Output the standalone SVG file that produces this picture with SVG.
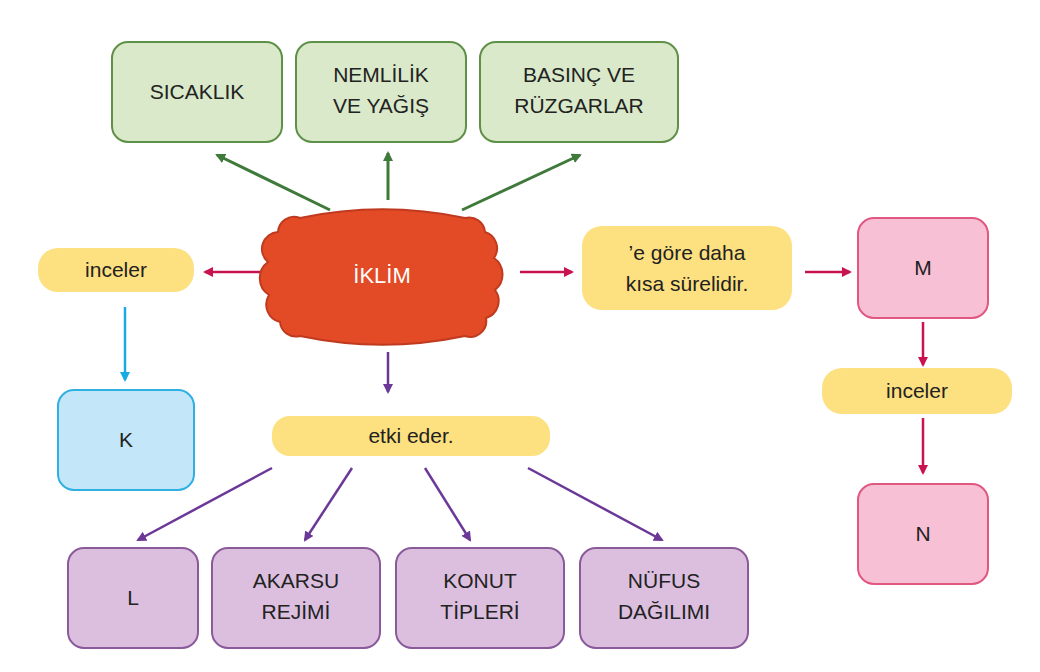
<svg xmlns="http://www.w3.org/2000/svg" width="1040" height="672" viewBox="0 0 1040 672">
<style>
text{font-family:"Liberation Sans",Arial,sans-serif;font-size:21px;fill:#222;text-anchor:middle}
.g{fill:#d9e9c9;stroke:#5e9048;stroke-width:2}
.p{fill:#dcbfdf;stroke:#8a5a9a;stroke-width:2}
.k{fill:#c3e7f8;stroke:#2fb0e2;stroke-width:2}
.m{fill:#f8c0d4;stroke:#e0577f;stroke-width:2}
.y{fill:#fde07f}
.ag{stroke:#3f7a3a;stroke-width:3;fill:none}
.ar{stroke:#c8134f;stroke-width:2.5;fill:none}
.ac{stroke:#19aae2;stroke-width:2.5;fill:none}
.ap{stroke:#6b3898;stroke-width:2.5;fill:none}
</style>
<defs>
<marker id="hg" markerWidth="10" markerHeight="10" refX="8" refY="5" orient="auto" markerUnits="userSpaceOnUse" viewBox="0 0 10 10"><path d="M0,0 L10,5 L0,10z" fill="#3f7a3a"/></marker>
<marker id="hr" markerWidth="10" markerHeight="10" refX="8" refY="5" orient="auto" markerUnits="userSpaceOnUse" viewBox="0 0 10 10"><path d="M0,0 L10,5 L0,10z" fill="#c8134f"/></marker>
<marker id="hc" markerWidth="10" markerHeight="10" refX="8" refY="5" orient="auto" markerUnits="userSpaceOnUse" viewBox="0 0 10 10"><path d="M0,0 L10,5 L0,10z" fill="#19aae2"/></marker>
<marker id="hp" markerWidth="10" markerHeight="10" refX="8" refY="5" orient="auto" markerUnits="userSpaceOnUse" viewBox="0 0 10 10"><path d="M0,0 L10,5 L0,10z" fill="#6b3898"/></marker>
</defs>
<rect width="1040" height="672" fill="#fff"/>
<g id="connectors">
<path class="ag" d="M330,210 L217,155" marker-end="url(#hg)"/>
<path class="ag" d="M388,200 L388,153" marker-end="url(#hg)"/>
<path class="ag" d="M462,210 L580,155" marker-end="url(#hg)"/>
<path class="ar" d="M262,272 L205,272" marker-end="url(#hr)"/>
<path class="ac" d="M125,307 L125,380" marker-end="url(#hc)"/>
<path class="ap" d="M388,352 L388,392" marker-end="url(#hp)"/>
<path class="ap" d="M272,468 L138,540" marker-end="url(#hp)"/>
<path class="ap" d="M352,468 L305,540" marker-end="url(#hp)"/>
<path class="ap" d="M425,468 L470,540" marker-end="url(#hp)"/>
<path class="ap" d="M528,468 L662,540" marker-end="url(#hp)"/>
<path class="ar" d="M520,272 L572,272" marker-end="url(#hr)"/>
<path class="ar" d="M805,272 L850,272" marker-end="url(#hr)"/>
<path class="ar" d="M923,322 L923,365" marker-end="url(#hr)"/>
<path class="ar" d="M923,418 L923,473" marker-end="url(#hr)"/>
</g>
<g id="iklim">
<path d="M300,218 A400,400 0 0 1 465,218 A16,16 0 0 1 485,232 A17,17 0 0 1 494,258 A20,20 0 0 1 495,290 A18,18 0 0 1 486,318 A16,16 0 0 1 465,336 A400,400 0 0 1 300,336 A16,16 0 0 1 280,322 A18,18 0 0 1 269,295 A20,20 0 0 1 268,262 A17,17 0 0 1 278,232 A16,16 0 0 1 300,218 Z" fill="#e24b26" stroke="#c03a1f" stroke-width="2"/>
<text x="382" y="283" style="fill:#fff;font-size:22px">İKLİM</text>
</g>
<g id="sicaklik"><rect class="g" x="112" y="42" width="170" height="100" rx="16"/><text x="197" y="99">SICAKLIK</text></g>
<g id="nemlilik"><rect class="g" x="296" y="42" width="170" height="100" rx="16"/><text x="381" y="82">NEMLİLİK</text><text x="381" y="113">VE YAĞIŞ</text></g>
<g id="basinc"><rect class="g" x="480" y="42" width="198" height="100" rx="16"/><text x="579" y="82">BASINÇ VE</text><text x="579" y="113">RÜZGARLAR</text></g>
<g id="inceler1"><rect class="y" x="38" y="248" width="156" height="44" rx="20"/><text x="116" y="277">inceler</text></g>
<g id="k"><rect class="k" x="58" y="390" width="136" height="100" rx="16"/><text x="126" y="447">K</text></g>
<g id="etki"><rect class="y" x="272" y="416" width="278" height="40" rx="18"/><text x="411" y="443">etki eder.</text></g>
<g id="l"><rect class="p" x="68" y="548" width="130" height="100" rx="16"/><text x="133" y="605">L</text></g>
<g id="akarsu"><rect class="p" x="212" y="548" width="168" height="100" rx="16"/><text x="296" y="588">AKARSU</text><text x="296" y="619">REJİMİ</text></g>
<g id="konut"><rect class="p" x="396" y="548" width="168" height="100" rx="16"/><text x="480" y="588">KONUT</text><text x="480" y="619">TİPLERİ</text></g>
<g id="nufus"><rect class="p" x="580" y="548" width="168" height="100" rx="16"/><text x="664" y="588">NÜFUS</text><text x="664" y="619">DAĞILIMI</text></g>
<g id="gore"><rect class="y" x="582" y="226" width="210" height="84" rx="20"/><text x="687" y="260">’e göre daha</text><text x="687" y="291">kısa sürelidir.</text></g>
<g id="m"><rect class="m" x="858" y="218" width="130" height="100" rx="16"/><text x="923" y="275">M</text></g>
<g id="inceler2"><rect class="y" x="822" y="368" width="190" height="46" rx="20"/><text x="917" y="398">inceler</text></g>
<g id="n"><rect class="m" x="858" y="484" width="130" height="100" rx="16"/><text x="923" y="541">N</text></g>
</svg>
